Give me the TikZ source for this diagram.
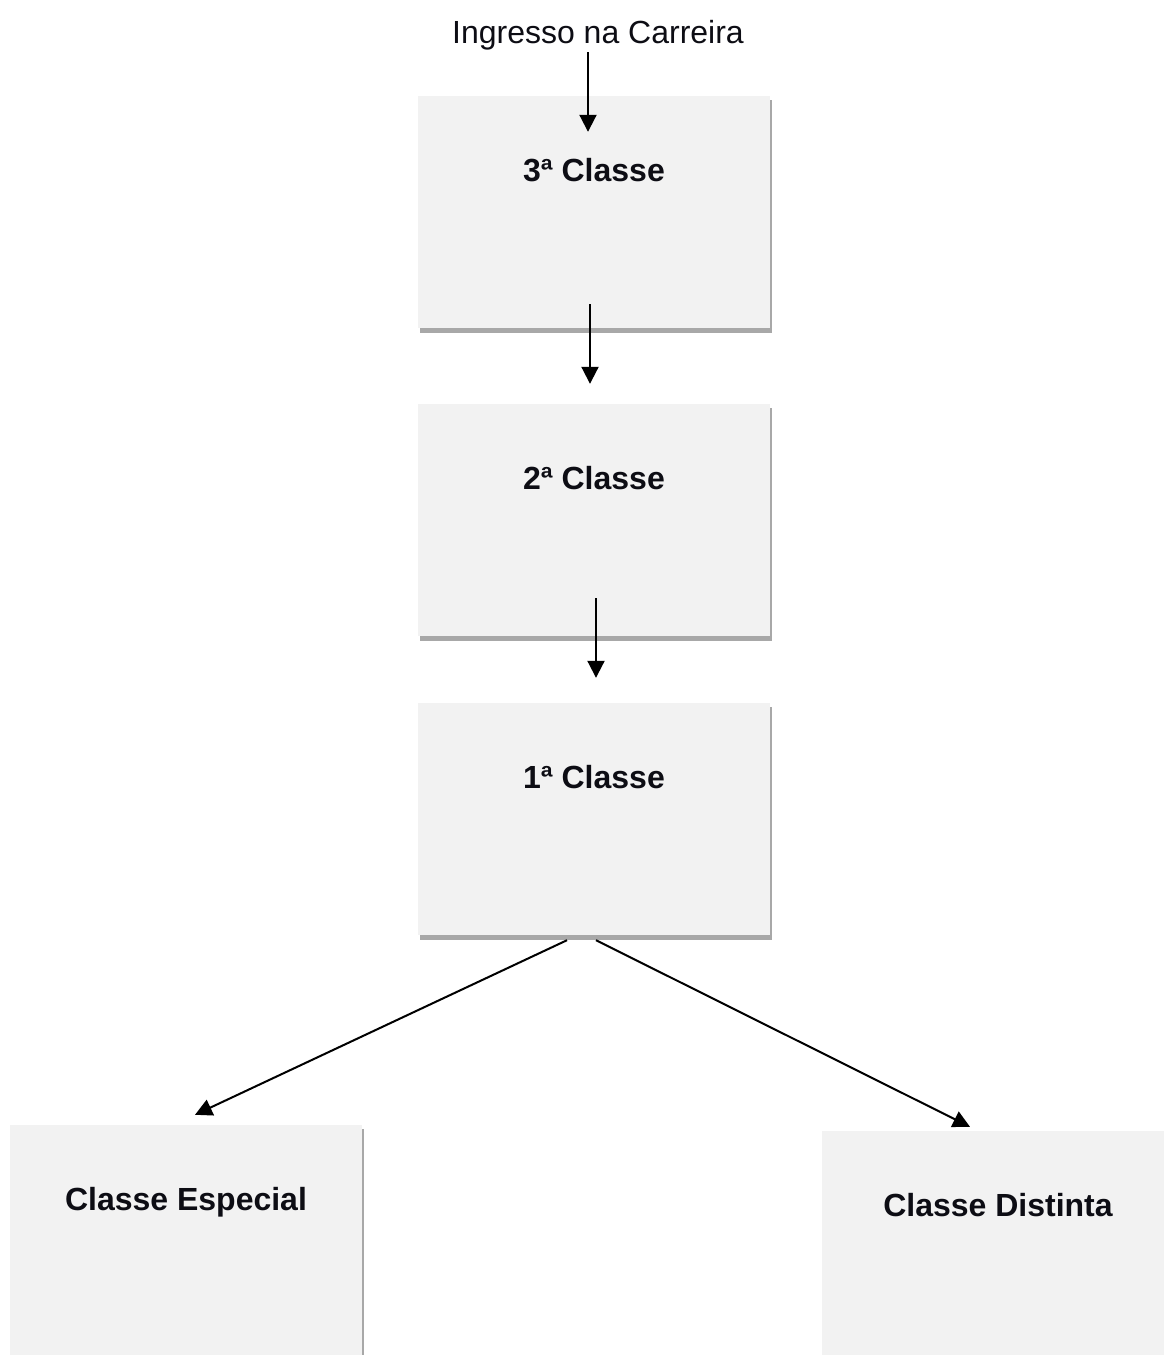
\documentclass[tikz,border=0pt]{standalone}
\usepackage{fontspec}
\setmainfont{Liberation Sans}
\usetikzlibrary{arrows.meta,calc}
\definecolor{boxfill}{HTML}{F2F2F2}
\definecolor{shadowc}{HTML}{A8A8A8}
\definecolor{txt}{HTML}{0D0D14}
\tikzset{
  classbox/.style={rectangle, fill=boxfill, minimum width=352pt, minimum height=232pt, inner sep=0pt},
  classlabel/.style={anchor=base, font=\fontsize{32}{36}\selectfont\bfseries, text=txt, inner sep=0pt},
  toplabel/.style={anchor=base, font=\fontsize{32}{36}\selectfont, text=txt, inner sep=0pt},
  arr/.style={line width=2pt, -{Triangle[width=17pt,length=17pt]}}
}
\newcommand{\boxshadow}[1]{\fill[shadowc] ($(#1.south west)+(2,5)$) rectangle ($(#1.north east)+(2,4)$);}
\begin{document}
\begin{tikzpicture}[x=1pt,y=-1pt]
\useasboundingbox (0,0) rectangle (1164,1355);
% shadows
\node[classbox, fill=none] (b1) at (594,212) {};
\node[classbox, fill=none] (b2) at (594,520) {};
\node[classbox, fill=none] (b3) at (594,819) {};
\node[classbox, fill=none] (bl) at (186,1241) {};
\node[classbox, fill=none] (br) at (998,1247) {};
\boxshadow{b1}
\boxshadow{b2}
\boxshadow{b3}
\boxshadow{bl}
% boxes
\node[classbox] at (b1) {};
\node[classbox] at (b2) {};
\node[classbox] at (b3) {};
\node[classbox] at (bl) {};
\node[classbox] at (br) {};
% labels
\node[toplabel] (ing) at (598,43) {Ingresso na Carreira};
\node[classlabel] (t1) at ($(b1.north)+(0,86)$) {3ª Classe};
\node[classlabel] (t2) at ($(b2.north)+(0,86)$) {2ª Classe};
\node[classlabel] (t3) at ($(b3.north)+(0,86)$) {1ª Classe};
\node[classlabel] (tl) at ($(bl.north)+(0,86)$) {Classe Especial};
\node[classlabel] (tr) at ($(br.north)+(0,86)$) {Classe Distinta};
% connectors
\draw[arr] ($(ing.base)+(-10,9)$) -- ($(b1.north)+(-6,36)$);
\draw[arr] ($(b1.south)+(-4,-24)$) -- ($(b2.north)+(-4,-20)$);
\draw[arr] ($(b2.south)+(2,-38)$) -- ($(b3.north)+(2,-25)$);
\draw[arr] ($(b3.south)+(-27,5)$) -- ($(bl.north)+(9,-10)$);
\draw[arr] ($(b3.south)+(2,5)$) -- ($(br.north)+(-28,-4)$);
\end{tikzpicture}
\end{document}
